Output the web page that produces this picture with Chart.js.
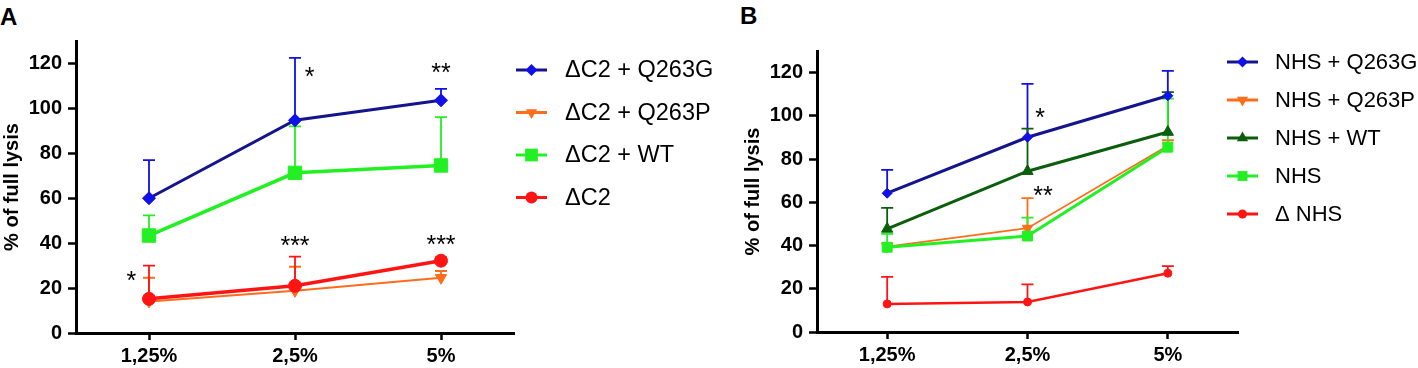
<!DOCTYPE html>
<html>
<head>
<meta charset="utf-8">
<script src="https://cdn.jsdelivr.net/npm/chart.js@4/dist/chart.umd.min.js"></script>
<style>
  body { margin: 0; background: #fff; width: 1418px; height: 368px; overflow: hidden; position: relative; }
  canvas { position: absolute; top: 0; }
  .panel { position: absolute; font: bold 24px "Liberation Sans", Arial, sans-serif; line-height: 1; color: #000; }
</style>
</head>
<body>
<div class="panel" style="left:0;top:5px">A</div>
<div class="panel" style="left:740px;top:4px">B</div>
<canvas id="chart-a" width="712" height="368" style="left:0"></canvas>
<canvas id="chart-b" width="677" height="368" style="left:741px"></canvas>
<script>
const doses = ['1,25%', '2,5%', '5%'];

// panel A, mean and upper SD
const aQ263G = [60, 94.7, 103.6];
const aQ263GSd = [17, 27.8, 5.1];
const aQ263P = [14, 18.8, 24.6];
const aQ263PSd = [10.6, 10.7, 3.0];
const aWT = [43.4, 71.3, 74.6];
const aWTSd = [9.0, 20.7, 21.5];
const aDC2 = [15.2, 21.0, 32.2];
const aDC2Sd = [14.8, 13.0, 1.5];
const aStars = ['*', '**', '***', '***', '*'];
const aStarX = [1.1, 2, 1, 2, -0.12];
const aStarY = [116.5, 118.5, 41.5, 42, 25.8];

// panel B
const bQ263G = [64.2, 90.1, 109.3];
const bQ263GSd = [10.8, 24.7, 11.5];
const bQ263P = [39.5, 48, 86.2];
const bQ263PSd = [1.5, 13.9, 2.5];
const bWT = [47.7, 74.4, 92.5];
const bWTSd = [9.7, 19.7, 18.5];
const bNHS = [39.2, 44.4, 85.5];
const bNHSSd = [6.2, 8.5, 22.5];
const bDNHS = [13, 13.9, 27.2];
const bDNHSSd = [12.5, 8.1, 3.3];
const bStars = ['*', '**'];
const bStarX = [1.09, 1.11];
const bStarY = [101.8, 65.8];

const FONT = '"Liberation Sans", Arial, sans-serif';
Chart.defaults.font.family = FONT;
Chart.defaults.color = '#000';

const NAVY = '#14148c';
const BLUE = '#1010e8';
const ORANGE = '#ff6c1a';
const GREEN = '#22f022';
const RED = '#ff1414';
const DKGREEN = '#0b5e0b';

function drawMarker(ctx, style, rotation, r, x, y) {
  ctx.beginPath();
  if (style === 'circle') {
    ctx.arc(x, y, r, 0, Math.PI * 2);
  } else if (style === 'rect') {
    const h = r * Math.SQRT1_2;
    ctx.rect(x - h, y - h, 2 * h, 2 * h);
  } else if (style === 'rectRot') {
    ctx.moveTo(x, y - r);
    ctx.lineTo(x + r, y);
    ctx.lineTo(x, y + r);
    ctx.lineTo(x - r, y);
    ctx.closePath();
  } else {
    let rad = (rotation || 0) * Math.PI / 180;
    ctx.moveTo(x + Math.sin(rad) * r, y - Math.cos(rad) * r);
    for (let k = 0; k < 2; k++) {
      rad += Math.PI * 2 / 3;
      ctx.lineTo(x + Math.sin(rad) * r, y - Math.cos(rad) * r);
    }
    ctx.closePath();
  }
  ctx.fill();
}

const errorBars = {
  id: 'errorBars',
  beforeDatasetsDraw(chart, args, opts) {
    const { ctx, scales: { x, y } } = chart;
    chart.data.datasets.forEach((ds) => {
      ctx.save();
      ctx.strokeStyle = ds.errColor;
      ctx.lineWidth = opts.width;
      ds.data.forEach((v, j) => {
        const px = x.getPixelForValue(j);
        const py = y.getPixelForValue(v);
        const top = y.getPixelForValue(v + ds.sd[j]);
        ctx.beginPath();
        ctx.moveTo(px, py);
        ctx.lineTo(px, top);
        ctx.moveTo(px - opts.cap, top);
        ctx.lineTo(px + opts.cap, top);
        ctx.stroke();
      });
      ctx.restore();
    });
  },
};

const stars = {
  id: 'stars',
  afterDatasetsDraw(chart, args, opts) {
    const { ctx, scales: { x, y } } = chart;
    ctx.save();
    ctx.font = '25px ' + FONT;
    ctx.fillStyle = '#000';
    ctx.textAlign = 'center';
    ctx.textBaseline = 'alphabetic';
    opts.labels.forEach((s, i) => {
      ctx.fillText(s, x.getPixelForValue(opts.xs[i]), y.getPixelForValue(opts.ys[i]) + 14);
    });
    ctx.restore();
  },
};

const sideLegend = {
  id: 'sideLegend',
  afterDraw(chart, args, opts) {
    const ctx = chart.ctx;
    chart.data.datasets.forEach((ds, i) => {
      const yy = opts.top + i * opts.step;
      ctx.save();
      ctx.strokeStyle = ds.borderColor;
      ctx.lineWidth = 3;
      ctx.beginPath();
      ctx.moveTo(opts.x, yy);
      ctx.lineTo(opts.x + opts.len, yy);
      ctx.stroke();
      ctx.fillStyle = ds.pointBackgroundColor;
      drawMarker(ctx, ds.pointStyle, ds.pointRotation, ds.legendRadius, opts.x + opts.len / 2, yy);
      ctx.fillStyle = '#000';
      ctx.font = opts.fontSize + 'px ' + FONT;
      ctx.textBaseline = 'middle';
      ctx.fillText(ds.label, opts.textX, yy + 1);
      ctx.restore();
    });
  },
};

function series(label, data, sd, line, marker, width, style, radius, legendRadius, rotation) {
  return {
    label: label,
    data: data,
    sd: sd,
    errColor: marker,
    borderColor: line,
    borderWidth: width,
    pointStyle: style,
    pointRotation: rotation || 0,
    pointRadius: radius,
    pointBackgroundColor: marker,
    pointBorderColor: marker,
    pointBorderWidth: 1,
    legendRadius: legendRadius,
    fill: false,
  };
}

function makeScales(height) {
  return {
    x: {
      type: 'category',
      offset: true,
      afterFit(scale) { scale.height = height; },
      border: { color: '#000', width: 3 },
      grid: { drawOnChartArea: false, tickColor: '#000', tickWidth: 2.5, tickLength: 7 },
      ticks: { font: { size: 20, weight: 'bold' }, padding: 4, maxRotation: 0 },
    },
    y: {
      min: 0,
      max: 130,
      afterFit(scale) { scale.width = 76; },
      border: { color: '#000', width: 3 },
      grid: { drawOnChartArea: false, tickColor: '#000', tickWidth: 2.5, tickLength: 8 },
      ticks: { stepSize: 20, includeBounds: false, font: { size: 20, weight: 'bold' }, padding: 6 },
      title: { display: true, text: '% of full lysis', font: { size: 20, weight: 'bold' }, padding: 0 },
    },
  };
}

new Chart(document.getElementById('chart-a'), {
  type: 'line',
  data: {
    labels: doses,
    datasets: [
      Object.assign(series('\u0394C2 + Q263G', aQ263G, aQ263GSd, NAVY, BLUE, 3, 'rectRot', 6.5, 6), { order: 1 }),
      Object.assign(series('\u0394C2 + Q263P', aQ263P, aQ263PSd, ORANGE, ORANGE, 2, 'triangle', 6.5, 6.5, 180), { order: 4 }),
      Object.assign(series('\u0394C2 + WT', aWT, aWTSd, GREEN, GREEN, 3.5, 'rect', 9.5, 9), { order: 2 }),
      Object.assign(series('\u0394C2', aDC2, aDC2Sd, RED, RED, 3.5, 'circle', 6.5, 6), { order: 3 }),
    ],
  },
  options: {
    responsive: false,
    animation: false,
    events: [],
    devicePixelRatio: 1,
    layout: { padding: { top: 41, right: 198, left: 0, bottom: 0 } },
    scales: makeScales(35),
    plugins: {
      legend: { display: false },
      tooltip: { enabled: false },
      errorBars: { width: 1.8, cap: 6 },
      stars: { labels: aStars, xs: aStarX, ys: aStarY },
      sideLegend: { x: 516, len: 31, textX: 565, top: 70, step: 42.5, fontSize: 23.5 },
    },
  },
  plugins: [errorBars, stars, sideLegend],
});

new Chart(document.getElementById('chart-b'), {
  type: 'line',
  data: {
    labels: doses,
    datasets: [
      Object.assign(series('NHS + Q263G', bQ263G, bQ263GSd, NAVY, BLUE, 3, 'rectRot', 5, 5.5), { order: 1 }),
      Object.assign(series('NHS + Q263P', bQ263P, bQ263PSd, ORANGE, ORANGE, 1.8, 'triangle', 6, 6.5, 180), { order: 3 }),
      Object.assign(series('NHS + WT', bWT, bWTSd, DKGREEN, DKGREEN, 3, 'triangle', 6.5, 6.5), { order: 2 }),
      Object.assign(series('NHS', bNHS, bNHSSd, GREEN, GREEN, 3, 'rect', 7, 7), { order: 0 }),
      Object.assign(series('\u0394 NHS', bDNHS, bDNHSSd, RED, RED, 2.5, 'circle', 4, 4.5), { order: 4 }),
    ],
  },
  options: {
    responsive: false,
    animation: false,
    events: [],
    devicePixelRatio: 1,
    layout: { padding: { top: 51, right: 180, left: 0, bottom: 0 } },
    scales: makeScales(36),
    plugins: {
      legend: { display: false },
      tooltip: { enabled: false },
      errorBars: { width: 1.8, cap: 6 },
      stars: { labels: bStars, xs: bStarX, ys: bStarY },
      sideLegend: { x: 486, len: 31, textX: 534, top: 62, step: 38, fontSize: 22 },
    },
  },
  plugins: [errorBars, stars, sideLegend],
});
</script>
</body>
</html>
